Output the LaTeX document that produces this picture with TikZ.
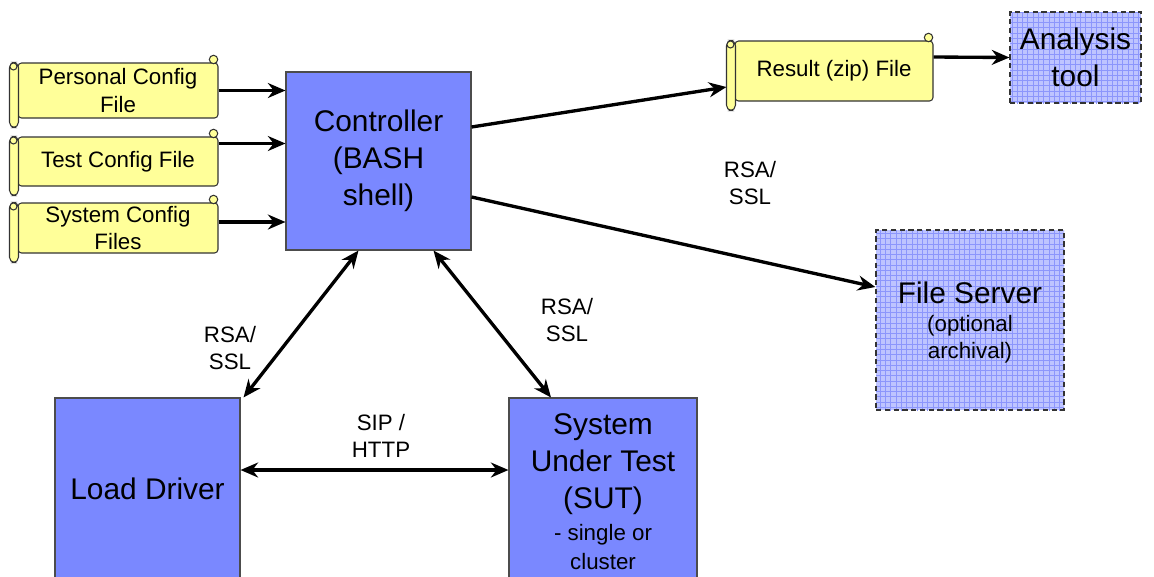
\documentclass[tikz,border=0pt]{standalone}
\usepackage{fontspec}
\setmainfont{Liberation Sans}
\usetikzlibrary{arrows.meta,calc,patterns}
\definecolor{boxblue}{RGB}{122,136,255}
\definecolor{gridblue}{RGB}{190,196,255}
\definecolor{gridline}{RGB}{140,150,252}
\definecolor{scrollyellow}{RGB}{255,255,153}
\newcommand\smallf{\fontsize{12.7}{15}\selectfont}
\newcommand\scrollrolls[1]{%
\draw[scrollpart,rounded corners=3pt] ($(#1.north west)+(-8,0)$) rectangle ($(#1.south west)+(1,9)$);
\draw[scrollpart] ($(#1.north west)+(-4,4)$) circle (2pt);
\draw[scrollpart] ($(#1.north east)+(-5,-3)$) circle (2.4pt);
}
\tikzset{
  bigtxt/.style={font=\fontsize{17}{21}\selectfont,align=center},
  smalltxt/.style={font=\fontsize{12.7}{15.5}\selectfont,align=center},
  blockbox/.style={draw=black!70,line width=0.6pt,fill=boxblue,bigtxt,inner sep=0pt},
  gridbox/.style={draw=black!80,line width=0.7pt,dash pattern=on 3pt off 2pt,preaction={fill=gridblue},pattern=grid,pattern color=gridline,bigtxt,inner sep=0pt},
  scrollbody/.style={draw=black!80,line width=0.6pt,fill=scrollyellow,rounded corners=2pt,smalltxt,inner sep=0pt},
  scrollpart/.style={draw=black!80,line width=0.6pt,fill=scrollyellow},
  arr/.style={line width=1.9pt,-{Stealth[length=10pt,width=8.5pt]}},
  dblarr/.style={line width=1.9pt,{Stealth[length=10pt,width=8.5pt]}-{Stealth[length=10pt,width=8.5pt]}},
}
\begin{document}
\begin{tikzpicture}[x=0.02cm,y=-0.02cm]
\useasboundingbox (0,0) rectangle (1154,576);
% input files
\node[scrollbody,minimum width=200*0.02cm,minimum height=55*0.02cm] (pcf) at (118,90.5) {Personal Config\\File};
\scrollrolls{pcf}
\node[scrollbody,minimum width=200*0.02cm,minimum height=49*0.02cm] (tcf) at (118,161.5) {Test Config File};
\scrollrolls{tcf}
\node[scrollbody,minimum width=200*0.02cm,minimum height=50*0.02cm] (scf) at (118,228) {System Config\\Files};
\scrollrolls{scf}
\node[scrollbody,minimum width=198*0.02cm,minimum height=60*0.02cm] (rzf) at (834,71) {Result (zip) File};
\scrollrolls{rzf}
% blocks
\node[blockbox,minimum width=185*0.02cm,minimum height=178*0.02cm] (ctrl) at (378.5,161) {Controller\\(BASH\\shell)};
\node[blockbox,minimum width=185*0.02cm,minimum height=182*0.02cm] (load) at (147.5,489) {Load Driver};
\node[blockbox,minimum width=188*0.02cm,minimum height=188*0.02cm] (sut) at (603,492) {System\\Under Test\\(SUT)\\[-3pt]\smallf - single or\\[-4pt]\smallf cluster};
\node[gridbox,minimum width=188*0.02cm,minimum height=180*0.02cm] (fs) at (970,320) {\rule{0pt}{15pt}File Server\\[-5pt]\smallf (optional\\[-6pt]\smallf archival)};
\node[gridbox,minimum width=131*0.02cm,minimum height=91*0.02cm] (at) at (1075.5,57.5) {Analysis\\tool};
% labels
\node[smalltxt] (rsa1) at (750,183) {RSA/\\SSL};
\node[smalltxt] (rsa2) at (230,348) {RSA/\\SSL};
\node[smalltxt] (rsa3) at (567,320) {RSA/\\SSL};
\node[smalltxt] (sip) at (381,436) {SIP /\\HTTP};
% connectors
\draw[arr] (pcf.east) -- (pcf.east -| ctrl.west);
\draw[arr] (tcf.east) ++(0,-18) coordinate (t1) -- (t1 -| ctrl.west);
\draw[arr] (scf.east) ++(0,-6) coordinate (s1) -- (s1 -| ctrl.west);
\draw[arr] ($(ctrl.east)+(0,-34)$) -- ($(rzf.west)+(-8,16)$);
\draw[arr] ($(rzf.east)+(0,-14)$) -- (at.west);
\draw[arr] ($(ctrl.east)+(0,36)$) -- ($(fs.west)+(0,-33)$);
\draw[dblarr] ($(ctrl.south)+(-20,0)$) -- ($(load.north east)+(3,0)$);
\draw[dblarr] ($(ctrl.south)+(55,0)$) -- ($(sut.north)+(-52,0)$);
\draw[dblarr] ($(load.east)+(0,-19)$) coordinate (l1) -- (l1 -| sut.west);
\end{tikzpicture}
\end{document}
